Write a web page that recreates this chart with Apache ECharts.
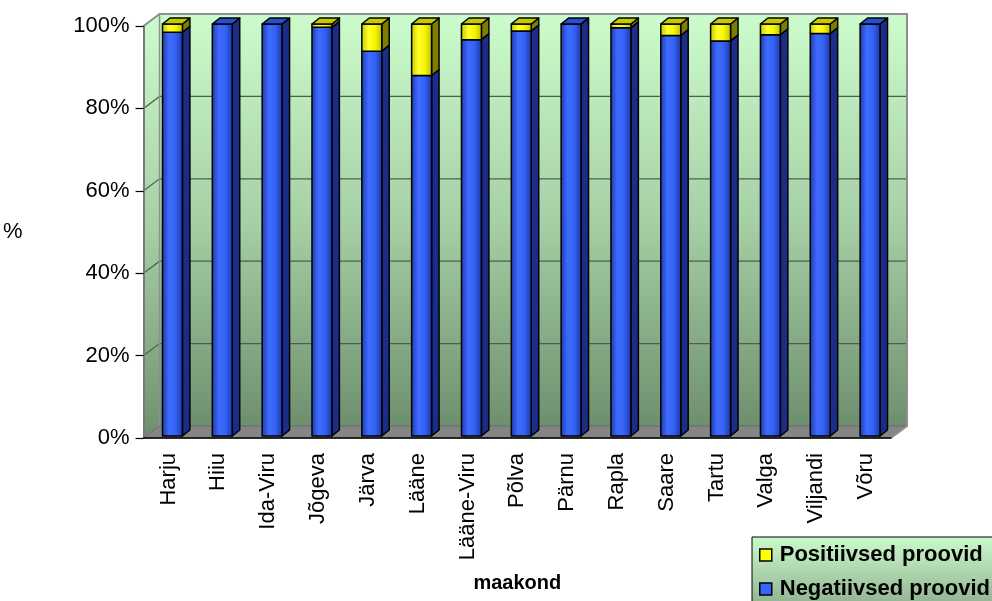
<!DOCTYPE html>
<html>
<head>
<meta charset="utf-8">
<script src="https://cdn.jsdelivr.net/npm/echarts@6/dist/echarts.min.js"></script>
<style>
  html, body { margin: 0; padding: 0; background: #ffffff; }
  #chart { width: 992px; height: 601px; }
</style>
</head>
<body>
<div id="chart"></div>
<script>
// Counties (maakond)
const categories = ['Harju', 'Hiiu', 'Ida-Viru', 'Jõgeva', 'Järva', 'Lääne', 'Lääne-Viru',
  'Põlva', 'Pärnu', 'Rapla', 'Saare', 'Tartu', 'Valga', 'Viljandi', 'Võru'];
// Share of samples, %
const positive = [2.0, 0, 0, 0.8, 6.6, 12.5, 3.8, 1.7, 0, 0.9, 2.8, 4.1, 2.6, 2.3, 0];
const negative = [98.0, 100, 100, 99.2, 93.4, 87.5, 96.2, 98.3, 100, 99.1, 97.2, 95.9, 97.4, 97.7, 100];
const yTicks = [0, 20, 40, 60, 80, 100];

const FONT = 'Liberation Sans, Arial, sans-serif';
const DEPTH_X = 16, DEPTH_Y = -12;   // wall depth
const G = echarts.graphic;

function wallGradient() {
  return new G.LinearGradient(0, 0, 0, 1, [
    { offset: 0, color: '#ccfccc' },
    { offset: 0.5, color: '#a6d0a6' },
    { offset: 1, color: '#6e8f6e' }
  ]);
}

// Walls, floor and gridlines of the 3D box
function renderWalls(params, api) {
  const cs = params.coordSys;
  const x0 = cs.x, x1 = cs.x + cs.width, y0 = cs.y, y1 = cs.y + cs.height;
  const children = [];
  // back wall
  children.push({
    type: 'polygon',
    shape: { points: [[x0 + DEPTH_X, y0 + DEPTH_Y], [x1 + DEPTH_X, y0 + DEPTH_Y], [x1 + DEPTH_X, y1 + DEPTH_Y], [x0 + DEPTH_X, y1 + DEPTH_Y]] },
    style: { fill: wallGradient(), stroke: null }
  });
  // left wall
  children.push({
    type: 'polygon',
    shape: { points: [[x0, y0], [x0 + DEPTH_X, y0 + DEPTH_Y], [x0 + DEPTH_X, y1 + DEPTH_Y], [x0, y1]] },
    style: { fill: wallGradient(), stroke: null }
  });
  // floor
  children.push({
    type: 'polygon',
    shape: { points: [[x0, y1], [x1, y1], [x1 + DEPTH_X, y1 + DEPTH_Y], [x0 + DEPTH_X, y1 + DEPTH_Y]] },
    style: { fill: '#858585', stroke: '#6a6a6a', lineWidth: 1 }
  });
  // gridlines
  yTicks.forEach(function (v) {
    if (v === 0 || v === 100) return;
    const y = api.coord([0, v])[1];
    children.push({
      type: 'polyline',
      shape: { points: [[x0, y], [x0 + DEPTH_X, y + DEPTH_Y], [x1 + DEPTH_X, y + DEPTH_Y]] },
      style: { fill: null, stroke: '#4f5f4f', lineWidth: 1.2 }
    });
  });
  // wall edges
  children.push({
    type: 'polyline',
    shape: { points: [[x0, y0], [x0 + DEPTH_X, y0 + DEPTH_Y], [x1 + DEPTH_X, y0 + DEPTH_Y], [x1 + DEPTH_X, y1 + DEPTH_Y], [x1, y1]] },
    style: { fill: null, stroke: '#8f8f8f', lineWidth: 2 }
  });
  children.push({
    type: 'line',
    shape: { x1: x0 + DEPTH_X, y1: y0 + DEPTH_Y, x2: x0 + DEPTH_X, y2: y1 + DEPTH_Y },
    style: { stroke: '#8f8f8f', lineWidth: 1.5 }
  });
  return { type: 'group', children: children };
}

const palettes = {
  neg: {
    front: [
      { offset: 0, color: '#1c38a8' },
      { offset: 0.35, color: '#3f6cff' },
      { offset: 0.65, color: '#3262f4' },
      { offset: 1, color: '#1a34a0' }
    ],
    side: '#1b2d88',
    top: '#2a4ed0'
  },
  pos: {
    front: [
      { offset: 0, color: '#c4c400' },
      { offset: 0.35, color: '#ffff2a' },
      { offset: 0.65, color: '#f6f600' },
      { offset: 1, color: '#bcbc00' }
    ],
    side: '#7d7d00',
    top: '#c8c800'
  }
};

// One prism segment of a stacked column
function prism(api, idx, from, to, pal, withTop) {
  const bw = api.size([1, 0])[0];
  const cx = api.coord([idx, 0])[0];
  const yb = api.coord([idx, from])[1] - 2;
  const yt = api.coord([idx, to])[1] - 2;
  const l = cx - 0.12 * bw, r = cx + 0.28 * bw;
  const dx = 0.15 * bw, dy = -6;
  const stroke = { stroke: '#000', lineWidth: 1.5, lineJoin: 'round' };
  const kids = [
    {
      type: 'polygon',
      shape: { points: [[r, yt], [r + dx, yt + dy], [r + dx, yb + dy], [r, yb]] },
      style: Object.assign({ fill: pal.side }, stroke)
    },
    {
      type: 'polygon',
      shape: { points: [[l, yt], [r, yt], [r, yb], [l, yb]] },
      style: Object.assign({ fill: new G.LinearGradient(0, 0, 1, 0, pal.front) }, stroke)
    }
  ];
  if (withTop) {
    kids.push({
      type: 'polygon',
      shape: { points: [[l, yt], [l + dx, yt + dy], [r + dx, yt + dy], [r, yt]] },
      style: Object.assign({ fill: pal.top }, stroke)
    });
  }
  return kids;
}

const negData = categories.map(function (c, i) { return [i, negative[i], positive[i]]; });
const posData = categories.map(function (c, i) { return [i, negative[i], positive[i]]; });

const chart = echarts.init(document.getElementById('chart'), null, { renderer: 'canvas' });
chart.setOption({
  animation: false,
  backgroundColor: '#ffffff',
  grid: { left: 142, right: 101, top: 26, bottom: 163, containLabel: false },
  xAxis: {
    type: 'category',
    data: categories,
    name: 'maakond',
    nameLocation: 'middle',
    nameGap: 135,
    nameTextStyle: { fontFamily: FONT, fontSize: 20, fontWeight: 'bold', color: '#000' },
    axisLine: { lineStyle: { color: '#000', width: 1.5 } },
    axisTick: { length: 8, lineStyle: { color: '#000', width: 1.2 } },
    axisLabel: { rotate: 90, interval: 0, margin: 15, fontFamily: FONT, fontSize: 22, color: '#000' },
    splitLine: { show: false }
  },
  yAxis: {
    type: 'value',
    min: 0,
    max: 100,
    interval: 20,
    name: '%',
    nameLocation: 'middle',
    nameRotate: 0,
    nameGap: 121,
    nameTextStyle: { fontFamily: FONT, fontSize: 22, color: '#000', padding: [8, 0, 0, 0] },
    axisLine: { show: true, lineStyle: { color: '#7a7a7a', width: 2 } },
    axisTick: { show: true, length: 8, lineStyle: { color: '#000', width: 1.2 } },
    axisLabel: { formatter: '{value}%', margin: 14, fontFamily: FONT, fontSize: 22, color: '#000' },
    splitLine: { show: false }
  },
  legend: {
    orient: 'vertical',
    left: 752,
    top: 537,
    width: 260,
    height: 100,
    data: ['Positiivsed proovid', 'Negatiivsed proovid'],
    icon: 'rect',
    itemWidth: 12,
    itemHeight: 12,
    itemGap: 12,
    padding: [7, 20, 8, 7],
    backgroundColor: new G.LinearGradient(0, 0, 0, 1, [
      { offset: 0, color: '#ccfacc' },
      { offset: 1, color: '#8db08d' }
    ]),
    borderColor: '#000',
    borderWidth: 1,
    borderRadius: 0,
    itemStyle: { borderColor: '#000', borderWidth: 1.5 },
    textStyle: { fontFamily: FONT, fontSize: 22, fontWeight: 'bold', color: '#000', padding: [0, 0, 0, 3] }
  },
  series: [
    {
      type: 'custom',
      name: 'walls',
      z: -1,
      silent: true,
      data: [[0, 0]],
      renderItem: renderWalls
    },
    {
      type: 'custom',
      name: 'Negatiivsed proovid',
      itemStyle: { color: '#3366ff' },
      data: negData,
      encode: { x: 0, y: 1 },
      renderItem: function (params, api) {
        const i = api.value(0), n = api.value(1), p = api.value(2);
        return { type: 'group', children: prism(api, i, 0, n, palettes.neg, p === 0) };
      }
    },
    {
      type: 'custom',
      name: 'Positiivsed proovid',
      itemStyle: { color: '#ffff00' },
      data: posData,
      encode: { x: 0, y: 1 },
      renderItem: function (params, api) {
        const i = api.value(0), n = api.value(1), p = api.value(2);
        if (p === 0) return { type: 'group', children: [] };
        return { type: 'group', children: prism(api, i, n, n + p, palettes.pos, true) };
      }
    }
  ]
});
</script>
</body>
</html>
